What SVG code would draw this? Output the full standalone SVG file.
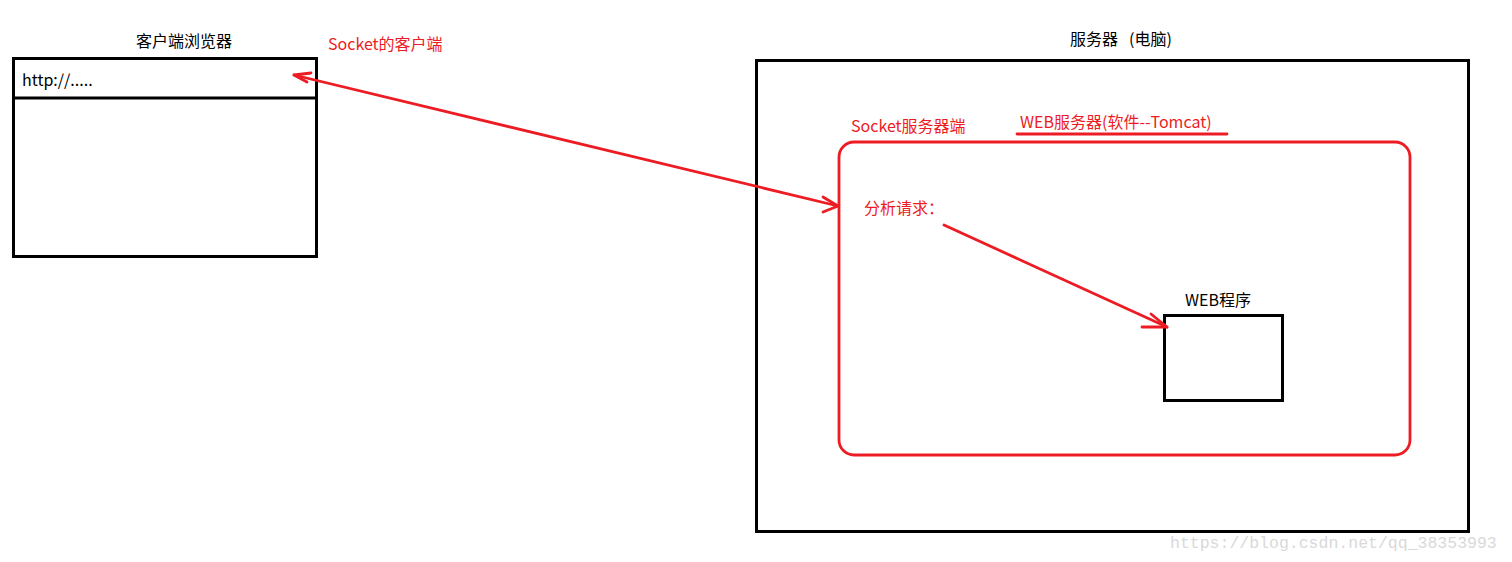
<svg xmlns="http://www.w3.org/2000/svg" width="1512" height="562" viewBox="0 0 1512 562">
<style>
.t{font-family:"Microsoft YaHei","Noto Sans CJK SC",sans-serif;font-size:16px}
.k{fill:#000}
.r{fill:#ed1c24}
.box{fill:none;stroke:#000;stroke-width:3}
.red{fill:none;stroke:#ed1c24;stroke-width:2.8;stroke-linecap:round;stroke-linejoin:round}
.wm{font-family:"Liberation Mono",monospace;font-size:16.5px;fill:#d9d9d9}
</style>
<rect width="1512" height="562" fill="#fff"/>
<g id="browser">
<rect class="box" x="13.5" y="58.5" width="303" height="198"/>
<line class="box" x1="13.5" y1="98" x2="316.5" y2="98"/>
<text class="t k" x="184" y="47" text-anchor="middle">客户端浏览器</text>
<text class="t k" x="22" y="86">http://.....</text>
</g>
<text id="socket-client-label" class="t r" x="328" y="50">Socket的客户端</text>
<g id="server">
<rect class="box" x="756.5" y="60.5" width="712" height="471"/>
<text class="t k" x="1070" y="45">服务器<tspan x="1129">(电脑)</tspan></text>
</g>
<g id="web-server">
<rect class="red" x="839" y="142" width="571" height="313" rx="15"/>
<text class="t r" x="851" y="132">Socket服务器端</text>
<text class="t r" x="1020" y="128">WEB服务器(软件--Tomcat)</text>
<line class="red" x1="1017" y1="134" x2="1227" y2="134"/>
<text class="t r" x="864" y="214">分析请求：</text>
</g>
<g id="web-app">
<rect class="box" x="1164.5" y="315.5" width="118" height="85"/>
<text class="t k" x="1185" y="306">WEB程序</text>
</g>
<g id="connectors">
<line class="red" x1="294" y1="75" x2="838" y2="206"/>
<polyline class="red" points="307,82 294,75 311,73"/>
<polyline class="red" points="823,197 838,206 823,212"/>
<line class="red" x1="944" y1="225" x2="1167" y2="327"/>
<polyline class="red" points="1151,314 1167,327 1142,327"/>
</g>
<text id="watermark" class="wm" x="1170" y="548">https://blog.csdn.net/qq_38353993</text>
</svg>
